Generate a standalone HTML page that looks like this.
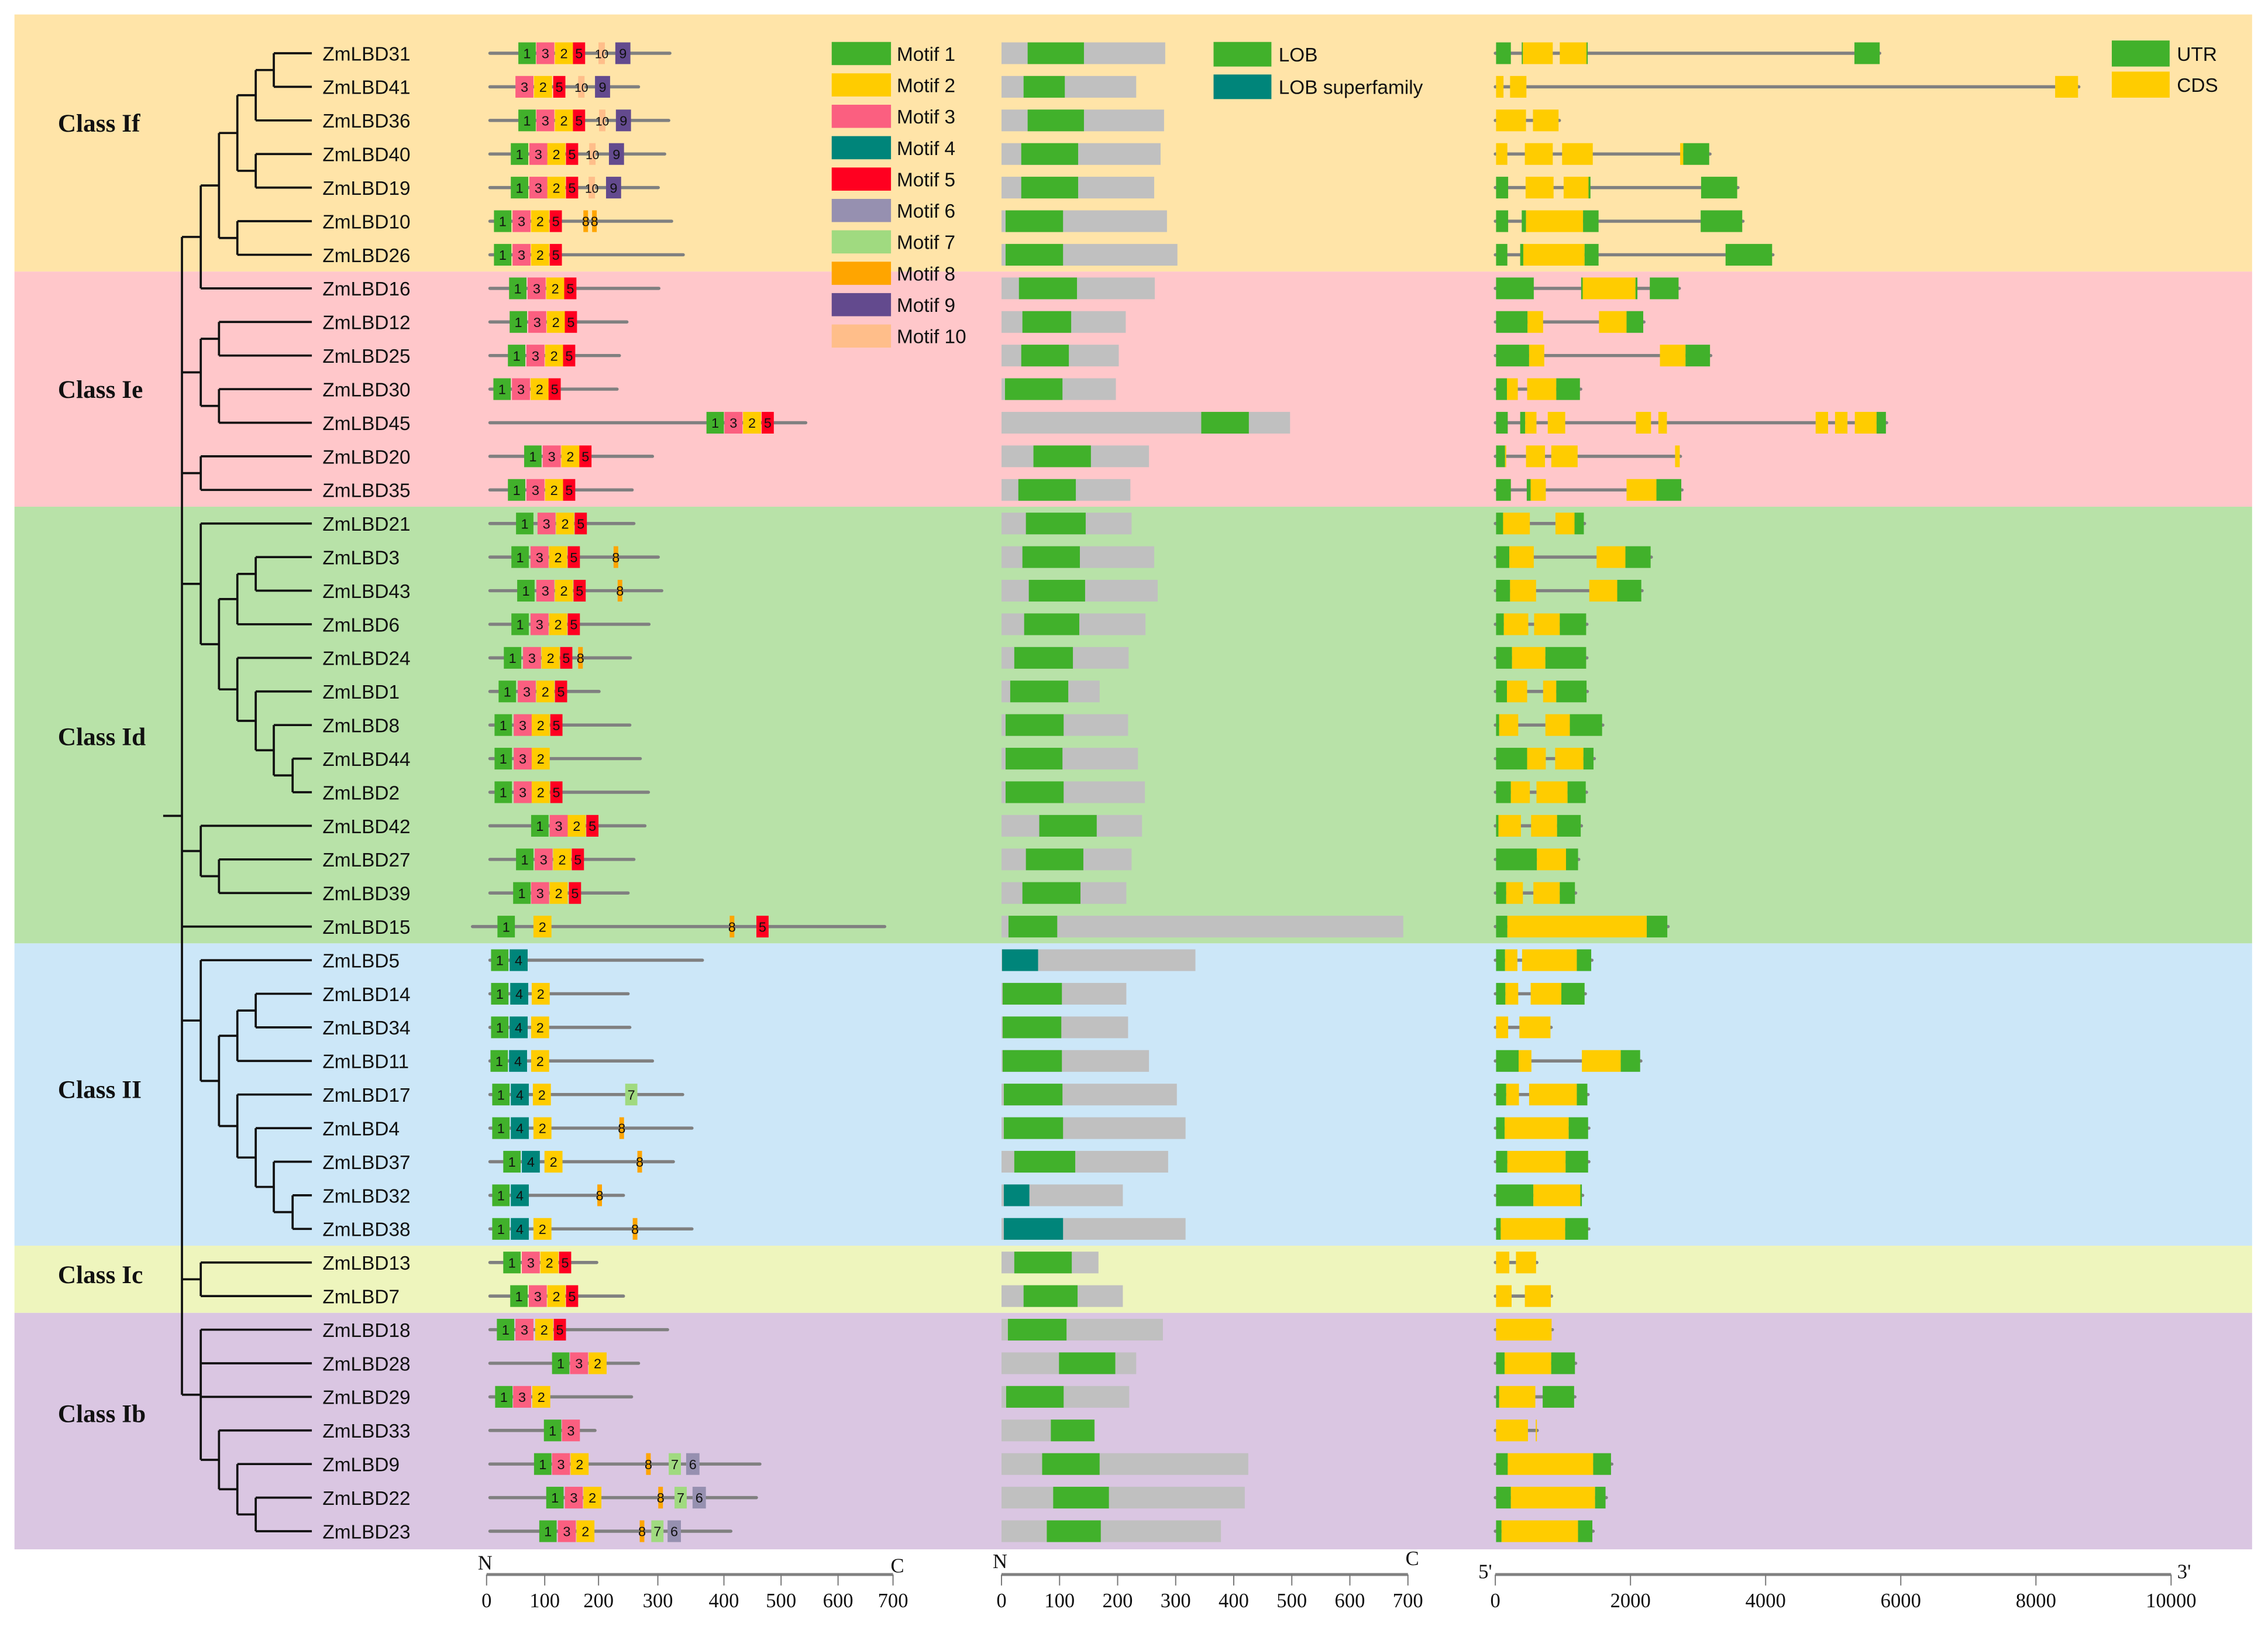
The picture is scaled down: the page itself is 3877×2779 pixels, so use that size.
<!DOCTYPE html>
<html><head><meta charset="utf-8"><style>
html,body{margin:0;padding:0;background:#fff;}
svg{display:block;}
.lbl{font-family:"Liberation Sans",sans-serif;font-size:13.5px;fill:#111;}
.ser{font-family:"Liberation Serif",serif;}
</style></head><body>
<svg id="fig" xmlns="http://www.w3.org/2000/svg" width="3877" height="2779" viewBox="0 0 1568 1124" preserveAspectRatio="none">
<rect x="0" y="0" width="1568" height="1124" fill="#fff"/>
</svg>
<script>
// ---------- data ----------
const genes = ['ZmLBD31','ZmLBD41','ZmLBD36','ZmLBD40','ZmLBD19','ZmLBD10','ZmLBD26','ZmLBD16','ZmLBD12','ZmLBD25','ZmLBD30','ZmLBD45','ZmLBD20','ZmLBD35','ZmLBD21','ZmLBD3','ZmLBD43','ZmLBD6','ZmLBD24','ZmLBD1','ZmLBD8','ZmLBD44','ZmLBD2','ZmLBD42','ZmLBD27','ZmLBD39','ZmLBD15','ZmLBD5','ZmLBD14','ZmLBD34','ZmLBD11','ZmLBD17','ZmLBD4','ZmLBD37','ZmLBD32','ZmLBD38','ZmLBD13','ZmLBD7','ZmLBD18','ZmLBD28','ZmLBD29','ZmLBD33','ZmLBD9','ZmLBD22','ZmLBD23'];
const classNames = ['Class If','Class Ie','Class Id','Class II','Class Ic','Class Ib'];
const classFirst = [0,7,14,27,36,38];
const classLast = [6,13,26,35,37,44];
const classLabelY = [91,275,515,759,887,983];
const classColors = ['#ffe4a8','#ffc7ca','#b8e2a8','#cce7f8','#eef5bd','#dac6e2'];

const motifColors = ['#41b12b','#ffcc00','#fb5f80','#00857a','#ff0020','#9690b0','#a0da80','#ffa500','#634a8e','#ffbe8a'];
const motifWidths = [30,31,31,31,21,23,21,8,26,11];
const proteinLineStart = [0,0,0,0,0,0,0,0,0,0,0,0,0,0,0,0,0,0,0,0,0,0,0,0,0,0,-30,0,0,0,0,0,0,0,0,0,0,0,0,0,0,0,0,0,0];
const proteinLen = [310,256,308,301,290,313,333,291,236,223,219,544,280,245,248,290,296,274,242,188,241,259,273,267,248,238,680,366,238,241,280,332,348,316,230,348,184,230,306,256,244,181,465,459,415];
const motifs = [
 [[1,49],[3,80],[2,112],[5,143],[10,187],[9,216]],
 [[3,44],[2,76],[5,109],[10,152],[9,181]],
 [[1,49],[3,80],[2,112],[5,143],[10,188],[9,217]],
 [[1,36],[3,68],[2,99],[5,131],[10,171],[9,205]],
 [[1,36],[3,68],[2,99],[5,131],[10,170],[9,200]],
 [[1,7],[3,39],[2,71],[5,103],[8,161],[8,176]],
 [[1,7],[3,39],[2,71],[5,103]],
 [[1,33],[3,65],[2,97],[5,128]],
 [[1,34],[3,66],[2,98],[5,129]],
 [[1,31],[3,63],[2,95],[5,126]],
 [[1,6],[3,38],[2,70],[5,101]],
 [[1,373],[3,404],[2,436],[5,468]],
 [[1,59],[3,91],[2,123],[5,154]],
 [[1,31],[3,63],[2,95],[5,126]],
 [[1,45],[3,82],[2,114],[5,146]],
 [[1,37],[3,70],[2,102],[5,134],[8,213]],
 [[1,47],[3,80],[2,112],[5,144],[8,220]],
 [[1,37],[3,70],[2,102],[5,134]],
 [[1,24],[3,57],[2,89],[5,121],[8,152]],
 [[1,15],[3,48],[2,80],[5,112]],
 [[1,8],[3,41],[2,72],[5,104]],
 [[1,8],[3,41],[2,72]],
 [[1,8],[3,41],[2,72],[5,104]],
 [[1,71],[3,103],[2,134],[5,166]],
 [[1,45],[3,77],[2,109],[5,141]],
 [[1,40],[3,71],[2,103],[5,136]],
 [[1,13],[2,75],[8,413],[5,459]],
 [[1,2],[4,34]],
 [[1,2],[4,35],[2,72]],
 [[1,2],[4,34],[2,71]],
 [[1,1],[4,33],[2,71]],
 [[1,4],[4,36],[2,74],[7,233]],
 [[1,4],[4,36],[2,75],[8,223]],
 [[1,23],[4,55],[2,94],[8,254]],
 [[1,4],[4,36],[8,185]],
 [[1,4],[4,36],[2,75],[8,246]],
 [[1,23],[3,55],[2,87],[5,119]],
 [[1,35],[3,67],[2,99],[5,131]],
 [[1,12],[3,44],[2,78],[5,110]],
 [[1,107],[3,138],[2,170]],
 [[1,9],[3,40],[2,73]],
 [[1,93],[3,124]],
 [[1,76],[3,107],[2,139],[8,269],[7,308],[6,338]],
 [[1,97],[3,129],[2,161],[8,290],[7,318],[6,349]],
 [[1,85],[3,117],[2,149],[8,258],[7,278],[6,306]]
];
const domainStart = [45,38,45,34,34,7,7,30,36,34,6,344,55,29,42,36,47,39,22,15,7,7,7,65,42,36,12,1,2,2,2,4,4,22,4,4,22,38,11,99,8,85,70,89,78];
const domainEnd = [142,109,142,132,132,106,106,130,120,116,105,426,154,128,145,135,144,134,123,115,107,105,107,164,141,136,96,63,104,103,104,105,106,127,48,106,121,131,112,196,107,160,169,185,171];
const domainTotal = [282,232,280,274,263,285,303,264,214,202,197,497,254,222,224,263,269,248,219,169,218,235,247,242,224,215,692,334,215,218,254,302,317,287,209,317,167,209,278,232,220,161,425,419,378];
const superfamily = [27,34,35];
const geneLen = [5688,8635,948,3177,3591,3665,4108,2723,2200,3188,1264,5791,2740,2763,1321,2309,2172,1356,1356,1362,1591,1465,1350,1275,1235,1189,2557,1430,1333,827,2154,1373,1385,1385,1293,1385,615,833,845,1189,1178,620,1724,1643,1448];
const geneSegs = [
 [['U',11,230],['U',391,408],['C',408,850],['C',954,1350],['U',1350,1362],['U',5314,5688]],
 [['C',11,121],['C',218,460],['C',8284,8623]],
 [['C',11,454],['C',557,936]],
 [['C',11,178],['C',437,850],['C',988,1442],['C',2735,2781],['U',2781,3165]],
 [['U',11,190],['C',448,862],['C',1011,1379],['U',1379,1408],['U',3045,3579]],
 [['U',11,190],['U',391,454],['C',454,1298],['U',1298,1528],['U',3039,3654]],
 [['U',11,178],['U',368,414],['C',414,1321],['U',1321,1528],['U',3407,4096]],
 [['U',11,569],['U',1270,1293],['C',1293,2074],['U',2074,2103],['U',2286,2712]],
 [['U',11,477],['C',477,707],['C',1534,1942],['U',1942,2189]],
 [['U',11,500],['C',500,724],['C',2436,2815],['U',2815,3177]],
 [['U',11,172],['C',172,333],['C',471,902],['U',902,1252]],
 [['U',11,184],['U',368,442],['C',442,609],['C',776,1034],['C',2080,2304],['C',2413,2539],['C',4740,4924],['C',5027,5211],['C',5320,5642],['U',5642,5780]],
 [['U',11,144],['C',144,155],['C',454,735],['C',828,1218],['C',2660,2729]],
 [['U',11,230],['U',465,523],['C',523,747],['C',1942,2384],['U',2384,2752]],
 [['U',11,115],['C',115,511],['C',890,1172],['U',1172,1310]],
 [['U',11,207],['C',207,569],['C',1499,1925],['U',1925,2298]],
 [['U',11,218],['C',218,603],['C',1390,1804],['U',1804,2160]],
 [['U',11,126],['C',126,488],['C',574,954],['U',954,1344]],
 [['U',11,247],['C',247,741],['U',741,1344]],
 [['U',11,172],['C',172,471],['C',707,902],['U',902,1350]],
 [['U',11,57],['C',57,339],['C',741,1103],['U',1103,1580]],
 [['U',11,471],['C',471,747],['C',885,1304],['U',1304,1453]],
 [['U',11,230],['C',230,511],['C',609,1069],['U',1069,1338]],
 [['U',11,46],['C',46,379],['C',529,914],['U',914,1264]],
 [['U',11,615],['C',615,1046],['U',1046,1224]],
 [['U',11,161],['C',161,408],['C',563,954],['U',954,1178]],
 [['U',11,178],['C',178,2241],['U',2241,2545]],
 [['U',11,144],['C',144,327],['C',396,1206],['U',1206,1419]],
 [['U',11,149],['C',149,339],['C',523,977],['U',977,1321]],
 [['C',11,190],['C',356,816]],
 [['U',11,345],['C',345,534],['C',1281,1856],['U',1856,2143]],
 [['U',11,161],['C',161,350],['C',500,1206],['U',1206,1362]],
 [['U',11,138],['C',138,1086],['U',1086,1373]],
 [['U',11,178],['C',178,1040],['U',1040,1373]],
 [['U',11,563],['C',563,1258],['U',1258,1281]],
 [['U',11,80],['C',80,1034],['U',1034,1373]],
 [['C',11,207],['C',305,603]],
 [['C',11,241],['C',437,822]],
 [['C',11,833]],
 [['U',11,138],['C',138,827],['U',827,1178]],
 [['U',11,57],['C',57,592],['U',701,1166]],
 [['C',11,483],['C',598,609]],
 [['U',11,184],['C',184,1448],['U',1448,1712]],
 [['U',11,230],['C',230,1476],['U',1476,1631]],
 [['U',11,92],['C',92,1224],['U',1224,1436]]
];
const treeA = [1,[2,[3,[4,[5,0,1],2],[4,3,4]],[3,5,6]],7];
const treeB = [1,[2,8,9],[2,10,11]];
const treeC = [1,12,13];
const treeD = [1,14,[2,[3,[4,15,16],17],[3,18,[4,19,[5,20,[6,21,22]]]]]];
const treeE = [1,23,[2,24,25]];
const treeG = [1,27,[2,[3,[4,28,29],30],[3,31,[4,32,[5,33,[6,34,35]]]]]];
const treeH = [1,36,37];
const treeI = [1,38,39,40,[2,41,[3,42,[4,43,44]]]];
const treeRoot = [0,treeA,treeB,treeC,treeD,treeE,26,treeG,treeH,treeI];
const motifTicks = [0,100,200,300,400,500,600,700];
const motifTickPos = [336.4,376.6,413.8,454.8,500.5,540,579.4,617.4];
const protTicks = [0,100,200,300,400,500,600,700];
const geneTicks = [0,2000,4000,6000,8000,10000];

// ---------- scales ----------
const svg = document.getElementById('fig');
const NS = 'http://www.w3.org/2000/svg';
function rowY(i){ return 36.8 + i*23.22; }
function mX(aa){ return 338.7 + aa*0.4014; }
function pX(aa){ return 692.4 + aa*0.4014; }
function gX(bp){ return 1033.8 + bp*0.04672; }
const levelX = [125.8,138.8,151.4,164.1,176.8,189.3,202.3];
const leafX = 215.6;
function mk(tag, attrs, parent){
  const e = document.createElementNS(NS, tag);
  for (const k in attrs) e.setAttribute(k, attrs[k]);
  (parent||svg).appendChild(e);
  return e;
}

// ---------- class bands ----------
for (let c=0;c<classNames.length;c++){
  const top = c===0 ? 10 : (rowY(classFirst[c]) + rowY(classFirst[c]-1))/2;
  const bot = c===classNames.length-1 ? 1071 : (rowY(classLast[c]) + rowY(classLast[c]+1))/2;
  const r = mk('rect',{x:10,y:top,width:1547,height:bot-top,fill:classColors[c]});
  
  
  const t = mk('text',{x:40,y:classLabelY[c],'font-size':17.5,'font-weight':'bold',class:'ser',fill:'#111'});
  t.textContent = classNames[c];
  
  
}

// ---------- tree ----------
const treeG_el = mk('g',{stroke:'#111','stroke-width':1.5,fill:'none'});


function drawNode(n){
  if (typeof n === 'number') return {y:rowY(n), x:leafX};
  const lx = levelX[n[0]];
  const kids = n.slice(1).map(drawNode);
  kids.forEach(k=>{
    const h = mk('line',{x1:lx,y1:k.y,x2:k.x,y2:k.y},treeG_el);
    
    
  });
  const y1 = kids[0].y, y2 = kids[kids.length-1].y;
  const v = mk('line',{x1:lx,y1:y1,x2:lx,y2:y2},treeG_el);
  
  
  return {y:(y1+y2)/2, x:lx};
}
const rootInfo = drawNode(treeRoot);
const stub = mk('line',{x1:112.8,y1:rootInfo.y,x2:levelX[0],y2:rootInfo.y},treeG_el);



// ---------- gene labels ----------
genes.forEach((g,i)=>{
  const t = mk('text',{x:223,y:rowY(i)+5,class:'lbl'});
  t.textContent = g;
  
  
});

// ---------- motifs ----------
genes.forEach((g,i)=>{
  const y = rowY(i);
  const gr = mk('g',{});
  
  
  const ln = mk('line',{x1:mX(proteinLineStart[i]),y1:y,x2:mX(proteinLen[i]),y2:y,stroke:'#808080','stroke-width':2.2,'stroke-linecap':'round'},gr);
  
  
  motifs[i].forEach(m=>{
    const id=m[0], x=mX(m[1]), w=motifWidths[id-1]*0.4014;
    const b = mk('rect',{x:x,y:y-7.5,width:w,height:15,fill:motifColors[id-1]},gr);
    
    
    const t = mk('text',{x:x+w/2,y:y+3.5,'text-anchor':'middle','font-size':id===10?8.5:9.5,'font-family':'Liberation Sans, sans-serif',fill:'#111'},gr);
    t.textContent = String(id);
    
    
  });
});

// ---------- protein domains ----------
genes.forEach((g,i)=>{
  const y = rowY(i);
  const bg = mk('rect',{x:pX(0),y:y-7.5,width:pX(domainTotal[i])-pX(0),height:15,fill:'#c0c0c0'});
  
  
  const d = mk('rect',{x:pX(domainStart[i]),y:y-7.5,width:pX(domainEnd[i])-pX(domainStart[i]),height:15,fill:superfamily.includes(i)?'#00857a':'#41b12b'});
  
  
});

// ---------- gene structures ----------
genes.forEach((g,i)=>{
  const y = rowY(i);
  const ln = mk('line',{x1:gX(0),y1:y,x2:gX(geneLen[i]),y2:y,stroke:'#808080','stroke-width':2.2,'stroke-linecap':'round'});
  
  
  geneSegs[i].forEach(s=>{
    const r = mk('rect',{x:gX(s[1]),y:y-7.5,width:Math.max(gX(s[2])-gX(s[1]),0.8),height:15,fill:s[0]==='U'?'#41b12b':'#ffcc00'});
    
    
  });
});

// ---------- legends ----------
for (let k=0;k<10;k++){
  const y = 37 + k*21.7;
  const r = mk('rect',{x:575,y:y-8,width:41,height:16,fill:motifColors[k]});
  
  
  const t = mk('text',{x:620,y:y+5,class:'lbl','font-size':13.5,fill:'#222'});
  t.textContent = 'Motif ' + (k+1);
  
  
}
const lobLeg = [['LOB','#41b12b',37.5],['LOB superfamily','#00857a',60]];
lobLeg.forEach(l=>{
  const r = mk('rect',{x:839,y:l[2]-8.5,width:40,height:17,fill:l[1]});
  
  
  const t = mk('text',{x:884,y:l[2]+5,class:'lbl','font-size':13.5,fill:'#222'});
  t.textContent = l[0];
  
  
});
const geneLeg = [['UTR','#41b12b',37],['CDS','#ffcc00',58.5]];
geneLeg.forEach(l=>{
  const r = mk('rect',{x:1460,y:l[2]-9,width:40,height:18,fill:l[1]});
  
  
  const t = mk('text',{x:1505,y:l[2]+5,class:'lbl','font-size':13.5,fill:'#222'});
  t.textContent = l[0];
  
  
});

// ---------- axes ----------
function axis(name, x1, x2, tickXs, tickLabels, leftLab, rightLab, leftY, rightY, leftDx, rightDx){
  const g = mk('g',{});
  
  
  mk('line',{x1:x1,y1:1088.4,x2:x2,y2:1088.4,stroke:'#808080','stroke-width':2},g);
  tickXs.forEach((tx,k)=>{
    mk('line',{x1:tx,y1:1088.4,x2:tx,y2:1096,stroke:'#777','stroke-width':0.8},g);
    const t = mk('text',{x:tx,y:1111,'text-anchor':'middle','font-size':14,class:'ser',fill:'#111'},g);
    t.textContent = tickLabels[k];
    
    
  });
  const a = mk('text',{x:x1+leftDx,y:leftY,'text-anchor':'middle','font-size':14,class:'ser',fill:'#111'},g);
  a.textContent = leftLab;
  
  
  const b = mk('text',{x:x2+rightDx,y:rightY,'text-anchor':'middle','font-size':14,class:'ser',fill:'#111'},g);
  b.textContent = rightLab;
  
  
}
axis('motif-axis', 336.4, 617.4, motifTickPos, motifTicks, 'N', 'C', 1085, 1087, -1, 3);
axis('protein-axis', pX(0), pX(700), protTicks.map(pX), protTicks, 'N', 'C', 1084, 1082, -1, 3);
axis('gene-axis', gX(0), gX(10000), geneTicks.map(gX), geneTicks, "5'", "3'", 1091, 1091, -7, 9);
</script>
</body></html>
